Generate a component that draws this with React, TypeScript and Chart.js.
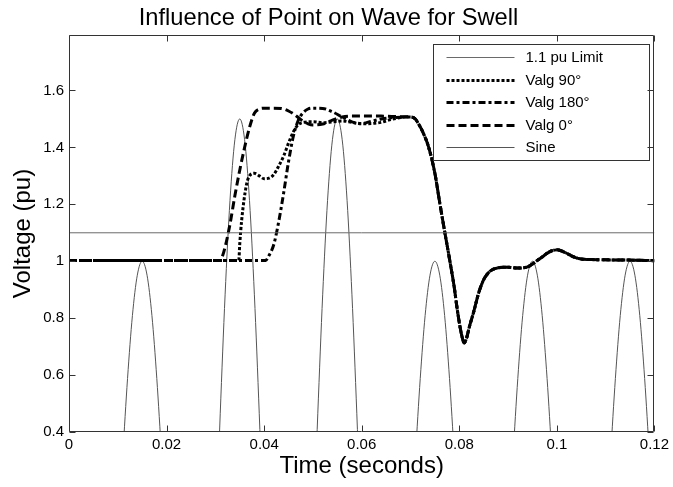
import React, { useEffect, useRef } from 'react';
import { Chart, registerables } from 'chart.js';

Chart.register(...registerables);

const FONT = '"Liberation Sans", Arial, Helvetica, sans-serif';

const chartTitle = 'Influence of Point on Wave for Swell';
const xAxisTitle = 'Time (seconds)';
const yAxisTitle = 'Voltage (pu)';

const xTicks = [0, 0.02, 0.04, 0.06, 0.08, 0.1, 0.12];
const xTickLabels = ['0', '0.02', '0.04', '0.06', '0.08', '0.1', '0.12'];
const yTicks = [0.4, 0.6, 0.8, 1.0, 1.2, 1.4, 1.6];
const yTickLabels = ['0.4', '0.6', '0.8', '1', '1.2', '1.4', '1.6'];
const xMin = 0;
const xMax = 0.12;
const yMin = 0.4;
const yMax = 1.795;

const seriesNames = ['1.1 pu Limit', 'Valg 90°', 'Valg 180°', 'Valg 0°', 'Sine'];

// 1.1 pu limit
const limitT = [0, 0.12];
const limitV = [1.1, 1.1];

// Valg 0 deg (dashed)
const valg0T = [0, 0.031, 0.0315, 0.032, 0.033, 0.034, 0.035, 0.036, 0.037, 0.038, 0.039, 0.040, 0.042, 0.044, 0.045, 0.046, 0.047, 0.048, 0.049, 0.050, 0.052, 0.054, 0.056, 0.058, 0.060, 0.064, 0.068, 0.070];
const valg0V = [1.003, 1.003, 1.02, 1.05, 1.13, 1.23, 1.32, 1.40, 1.47, 1.52, 1.535, 1.538, 1.538, 1.535, 1.528, 1.518, 1.505, 1.492, 1.483, 1.479, 1.482, 1.496, 1.507, 1.51, 1.51, 1.51, 1.508, 1.507];

// Valg 90 deg (dotted)
const valg90T = [0, 0.0348, 0.035, 0.0354, 0.0363, 0.0369, 0.038, 0.039, 0.040, 0.041, 0.042, 0.043, 0.044, 0.045, 0.046, 0.047, 0.048, 0.050, 0.052, 0.054, 0.056, 0.058, 0.060, 0.062, 0.064, 0.066, 0.068, 0.070];
const valg90V = [1.003, 1.003, 1.06, 1.145, 1.262, 1.297, 1.309, 1.30, 1.29, 1.292, 1.305, 1.335, 1.37, 1.415, 1.455, 1.48, 1.488, 1.49, 1.487, 1.49, 1.493, 1.488, 1.483, 1.484, 1.488, 1.498, 1.505, 1.507];

// Valg 180 deg (dash-dot)
const valg180T = [0, 0.0403, 0.041, 0.042, 0.043, 0.044, 0.045, 0.046, 0.047, 0.048, 0.049, 0.050, 0.052, 0.054, 0.056, 0.058, 0.060, 0.062, 0.064, 0.066, 0.068, 0.070];
const valg180V = [1.003, 1.003, 1.02, 1.06, 1.14, 1.24, 1.35, 1.44, 1.495, 1.522, 1.535, 1.538, 1.537, 1.525, 1.507, 1.49, 1.484, 1.492, 1.50, 1.504, 1.506, 1.507];

// common recovery part shared by all three Valg curves
const mergedT = [0.071, 0.0716, 0.0725, 0.0737, 0.075, 0.076, 0.077, 0.078, 0.079, 0.0795, 0.080, 0.0805, 0.081, 0.0815, 0.082, 0.083, 0.084, 0.085, 0.086, 0.087, 0.088, 0.089, 0.090, 0.091, 0.092, 0.093, 0.094, 0.095, 0.096, 0.097, 0.098, 0.099, 0.100, 0.101, 0.102, 0.103, 0.104, 0.105, 0.107, 0.110, 0.115, 0.120];
const mergedV = [1.50, 1.484, 1.455, 1.402, 1.309, 1.205, 1.105, 1.008, 0.905, 0.841, 0.785, 0.74, 0.713, 0.73, 0.765, 0.825, 0.89, 0.935, 0.96, 0.972, 0.977, 0.979, 0.979, 0.977, 0.976, 0.977, 0.98, 0.99, 1.003, 1.015, 1.028, 1.037, 1.04, 1.036, 1.028, 1.019, 1.012, 1.008, 1.006, 1.005, 1.004, 1.002];

// Sine reference wave
const sineT = [
  0, 0.001, 0.002, 0.003, 0.004, 0.005, 0.006, 0.007, 0.008, 0.009,
  0.010, 0.011, 0.012, 0.013, 0.014, 0.015, 0.016, 0.017, 0.018, 0.019,
  0.020, 0.021, 0.022, 0.023, 0.024, 0.025, 0.026, 0.027, 0.028, 0.029,
  0.030, 0.031, 0.032, 0.033, 0.034, 0.035, 0.036, 0.037, 0.038, 0.039,
  0.040, 0.041, 0.042, 0.043, 0.044, 0.045, 0.046, 0.047, 0.048, 0.049,
  0.050, 0.051, 0.052, 0.053, 0.054, 0.055, 0.056, 0.057, 0.058, 0.059,
  0.060, 0.061, 0.062, 0.063, 0.064, 0.065, 0.066, 0.067, 0.068, 0.069,
  0.070, 0.071, 0.072, 0.073, 0.074, 0.075, 0.076, 0.077, 0.078, 0.079,
  0.080, 0.081, 0.082, 0.083, 0.084, 0.085, 0.086, 0.087, 0.088, 0.089,
  0.090, 0.091, 0.092, 0.093, 0.094, 0.095, 0.096, 0.097, 0.098, 0.099,
  0.100, 0.101, 0.102, 0.103, 0.104, 0.105, 0.106, 0.107, 0.108, 0.109,
  0.110, 0.111, 0.112, 0.113, 0.114, 0.115, 0.116, 0.117, 0.118, 0.119,
  0.120,
];
const sineV = [
  0, -0.309, -0.588, -0.809, -0.951, -1, -0.951, -0.809, -0.588, -0.309,
  0, 0.309, 0.588, 0.809, 0.951, 1, 0.951, 0.809, 0.588, 0.309,
  0, -0.309, -0.588, -0.809, -0.951, -1, -0.951, -0.809, -0.588, -0.309,
  0, 0.464, 0.882, 1.214, 1.427, 1.5, 1.427, 1.214, 0.882, 0.464,
  0, -0.464, -0.882, -1.214, -1.427, -1.5, -1.427, -1.214, -0.882, -0.464,
  0, 0.464, 0.882, 1.214, 1.427, 1.5, 1.427, 1.214, 0.882, 0.464,
  0, -0.464, -0.882, -1.214, -1.427, -1.5, -1.427, -1.214, -0.882, -0.464,
  0, 0.309, 0.588, 0.809, 0.951, 1, 0.951, 0.809, 0.588, 0.309,
  0, -0.309, -0.588, -0.809, -0.951, -1, -0.951, -0.809, -0.588, -0.309,
  0, 0.309, 0.588, 0.809, 0.951, 1, 0.951, 0.809, 0.588, 0.309,
  0, -0.309, -0.588, -0.809, -0.951, -1, -0.951, -0.809, -0.588, -0.309,
  0, 0.309, 0.588, 0.809, 0.951, 1, 0.951, 0.809, 0.588, 0.309,
  0,
];

function pts(ts: number[], vs: number[]) {
  return ts.map((t, i) => ({ x: t, y: vs[i] }));
}

const decorPlugin = {
  id: 'matlabDecor',
  afterDraw(chart: any) {
    const { ctx, chartArea: a, scales } = chart;
    const L = Math.round(a.left) + 0.5;
    const R = Math.round(a.right) - 0.5;
    const T = Math.round(a.top) + 0.5;
    const B = Math.round(a.bottom) - 0.5;

    // legend box
    const lw = 216;
    const lh = 116;
    const lx = Math.round(a.right) - 5 - lw + 0.5;
    const ly = Math.round(a.top) + 9 + 0.5;
    ctx.save();
    ctx.fillStyle = '#ffffff';
    ctx.fillRect(lx, ly, lw, lh);
    ctx.strokeStyle = '#333333';
    ctx.lineWidth = 1;
    ctx.strokeRect(lx, ly, lw, lh);
    ctx.font = '15px ' + FONT;
    ctx.textBaseline = 'middle';
    ctx.textAlign = 'left';
    chart.data.datasets.forEach((ds: any, i: number) => {
      const cy = Math.round(ly + 12.5 + i * 22.5);
      ctx.save();
      ctx.strokeStyle = ds.borderColor;
      ctx.lineWidth = ds.borderWidth;
      ctx.setLineDash(ds.borderDash || []);
      ctx.beginPath();
      const yy = ds.borderWidth % 2 === 1 ? cy + 0.5 : cy;
      ctx.moveTo(lx + 13, yy);
      ctx.lineTo(lx + 81, yy);
      ctx.stroke();
      ctx.restore();
      ctx.fillStyle = '#000000';
      ctx.fillText(ds.label, lx + 92, cy + 1);
    });
    ctx.restore();

    // frame with inward ticks
    ctx.save();
    ctx.strokeStyle = '#333333';
    ctx.lineWidth = 1;
    ctx.beginPath();
    ctx.rect(L, T, R - L, B - T);
    const tl = 6;
    xTicks.forEach((v) => {
      const px = Math.round(scales.x.getPixelForValue(v)) + 0.5;
      ctx.moveTo(px, B);
      ctx.lineTo(px, B - tl);
      ctx.moveTo(px, T);
      ctx.lineTo(px, T + tl);
    });
    yTicks.forEach((v) => {
      const py = Math.round(scales.y.getPixelForValue(v)) + 0.5;
      ctx.moveTo(L, py);
      ctx.lineTo(L + tl, py);
      ctx.moveTo(R, py);
      ctx.lineTo(R - tl, py);
    });
    ctx.stroke();
    ctx.restore();
  },
};

export default function App() {
  const canvasRef = useRef<HTMLCanvasElement | null>(null);

  useEffect(() => {
    const canvas = canvasRef.current;
    if (!canvas) return;
    Chart.defaults.font.family = FONT;
    Chart.defaults.color = '#000000';

    const chart = new Chart(canvas, {
      type: 'line',
      data: {
        datasets: [
          {
            label: seriesNames[0],
            data: pts(limitT, limitV),
            borderColor: '#6a6a6a',
            borderWidth: 1,
            pointRadius: 0,
            fill: false,
            clip: 0,
          },
          {
            label: seriesNames[1],
            data: pts([...valg90T, ...mergedT], [...valg90V, ...mergedV]),
            borderColor: '#000000',
            borderWidth: 3,
            borderDash: [3, 2],
            pointRadius: 0,
            fill: false,
            cubicInterpolationMode: 'monotone',
            clip: 0,
          },
          {
            label: seriesNames[2],
            data: pts([...valg180T, ...mergedT], [...valg180V, ...mergedV]),
            borderColor: '#000000',
            borderWidth: 3,
            borderDash: [7, 3, 3, 3],
            pointRadius: 0,
            fill: false,
            cubicInterpolationMode: 'monotone',
            clip: 0,
          },
          {
            label: seriesNames[3],
            data: pts([...valg0T, ...mergedT], [...valg0V, ...mergedV]),
            borderColor: '#000000',
            borderWidth: 3,
            borderDash: [8, 4],
            pointRadius: 0,
            fill: false,
            cubicInterpolationMode: 'monotone',
            clip: 0,
          },
          {
            label: seriesNames[4],
            data: pts(sineT, sineV),
            borderColor: '#555555',
            borderWidth: 1,
            pointRadius: 0,
            fill: false,
            cubicInterpolationMode: 'monotone',
            clip: 0,
          },
        ],
      } as any,
      options: {
        responsive: false,
        animation: false,
        devicePixelRatio: 1,
        layout: { padding: { top: 0, right: 16, bottom: 0, left: 0 } },
        plugins: {
          legend: { display: false },
          tooltip: { enabled: false },
          title: {
            display: true,
            text: chartTitle,
            color: '#000000',
            font: { size: 23.7, weight: 'normal', family: FONT },
            padding: { top: 4.5, bottom: 2.06 },
          },
        },
        scales: {
          x: {
            type: 'linear',
            min: xMin,
            max: xMax,
            afterBuildTicks: (s: any) => {
              s.ticks = xTicks.map((v) => ({ value: v }));
            },
            afterFit: (s: any) => {
              s.height = 55;
            },
            ticks: {
              autoSkip: false,
              maxRotation: 0,
              padding: 4,
              color: '#000000',
              font: { size: 15, family: FONT },
              callback: (_v: any, i: number) => xTickLabels[i],
            },
            grid: { display: false, drawTicks: false },
            border: { display: false },
            title: {
              display: true,
              text: xAxisTitle,
              color: '#000000',
              font: { size: 24, family: FONT },
              padding: { top: 0, bottom: 6.6 },
            },
          },
          y: {
            type: 'linear',
            min: yMin,
            max: yMax,
            afterBuildTicks: (s: any) => {
              s.ticks = yTicks.map((v) => ({ value: v }));
            },
            afterFit: (s: any) => {
              s.width = 69;
            },
            ticks: {
              autoSkip: false,
              padding: 5,
              color: '#000000',
              font: { size: 15, family: FONT },
              callback: (_v: any, i: number) => yTickLabels[i],
            },
            grid: { display: false, drawTicks: false },
            border: { display: false },
            title: {
              display: true,
              text: yAxisTitle,
              color: '#000000',
              font: { size: 24, family: FONT },
              padding: { top: 9, bottom: 0 },
            },
          },
        },
      } as any,
      plugins: [decorPlugin],
    });

    return () => {
      chart.destroy();
    };
  }, []);

  return (
    <div style={{ position: 'fixed', left: 0, top: 0, width: 673, height: 487, background: '#ffffff' }}>
      <canvas ref={canvasRef} width={673} height={487} style={{ display: 'block', width: 673, height: 487 }} />
    </div>
  );
}
